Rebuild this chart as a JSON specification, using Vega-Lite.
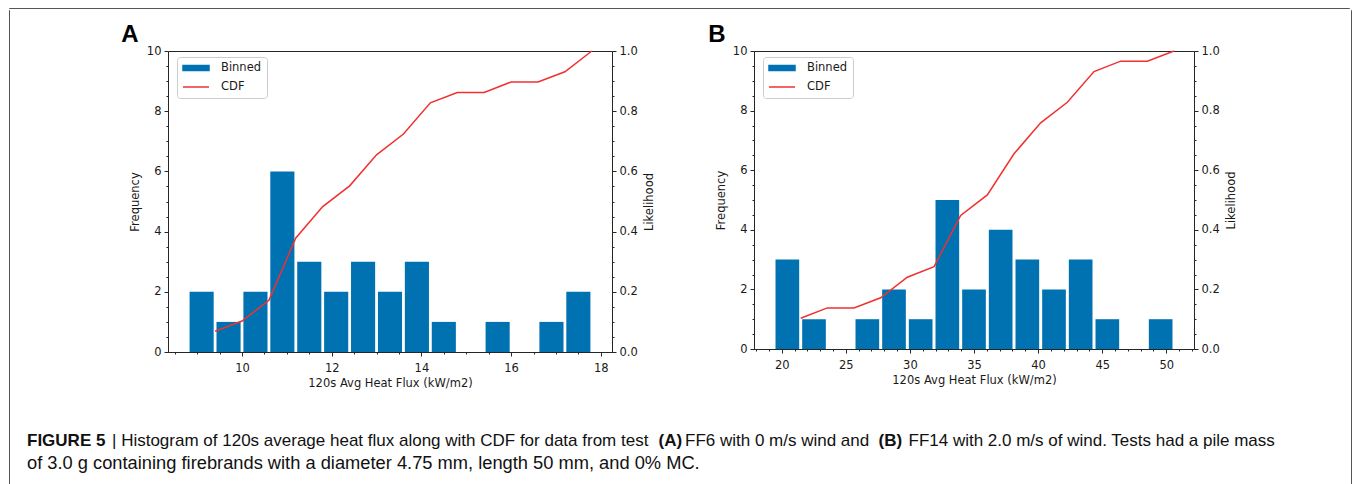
{
  "$schema": "https://vega.github.io/schema/vega-lite/v6.json",
  "background": "white",
  "padding": {"left": 8, "top": 7, "right": 0, "bottom": 0},
  "spacing": 0,
  "datasets": {
    "barsA": [
      {"lo": 8.8, "hi": 9.4, "n": 2},
      {"lo": 9.4, "hi": 10.0, "n": 1},
      {"lo": 10.0, "hi": 10.6, "n": 2},
      {"lo": 10.6, "hi": 11.2, "n": 6},
      {"lo": 11.2, "hi": 11.8, "n": 3},
      {"lo": 11.8, "hi": 12.4, "n": 2},
      {"lo": 12.4, "hi": 13.0, "n": 3},
      {"lo": 13.0, "hi": 13.6, "n": 2},
      {"lo": 13.6, "hi": 14.2, "n": 3},
      {"lo": 14.2, "hi": 14.8, "n": 1},
      {"lo": 15.4, "hi": 16.0, "n": 1},
      {"lo": 16.6, "hi": 17.2, "n": 1},
      {"lo": 17.2, "hi": 17.8, "n": 2}
    ],
    "cdfA": [
      {"x": 9.4, "p": 0.069},
      {"x": 10.0, "p": 0.103},
      {"x": 10.6, "p": 0.172},
      {"x": 11.2, "p": 0.379},
      {"x": 11.8, "p": 0.483},
      {"x": 12.4, "p": 0.552},
      {"x": 13.0, "p": 0.655},
      {"x": 13.6, "p": 0.724},
      {"x": 14.2, "p": 0.828},
      {"x": 14.8, "p": 0.862},
      {"x": 15.4, "p": 0.862},
      {"x": 16.0, "p": 0.897},
      {"x": 16.6, "p": 0.897},
      {"x": 17.2, "p": 0.931},
      {"x": 17.8, "p": 1.0}
    ],
    "barsB": [
      {"lo": 19.40, "hi": 21.48, "n": 3},
      {"lo": 21.48, "hi": 23.56, "n": 1},
      {"lo": 25.64, "hi": 27.72, "n": 1},
      {"lo": 27.72, "hi": 29.80, "n": 2},
      {"lo": 29.80, "hi": 31.88, "n": 1},
      {"lo": 31.88, "hi": 33.96, "n": 5},
      {"lo": 33.96, "hi": 36.04, "n": 2},
      {"lo": 36.04, "hi": 38.12, "n": 4},
      {"lo": 38.12, "hi": 40.20, "n": 3},
      {"lo": 40.20, "hi": 42.28, "n": 2},
      {"lo": 42.28, "hi": 44.36, "n": 3},
      {"lo": 44.36, "hi": 46.44, "n": 1},
      {"lo": 48.52, "hi": 50.60, "n": 1}
    ],
    "cdfB": [
      {"x": 21.48, "p": 0.103},
      {"x": 23.56, "p": 0.138},
      {"x": 25.64, "p": 0.138},
      {"x": 27.72, "p": 0.172},
      {"x": 29.80, "p": 0.241},
      {"x": 31.88, "p": 0.276},
      {"x": 33.96, "p": 0.448},
      {"x": 36.04, "p": 0.517},
      {"x": 38.12, "p": 0.655},
      {"x": 40.20, "p": 0.759},
      {"x": 42.28, "p": 0.828},
      {"x": 44.36, "p": 0.931},
      {"x": 46.44, "p": 0.966},
      {"x": 48.52, "p": 0.966},
      {"x": 50.60, "p": 1.0}
    ]
  },
  "vconcat": [
    {
      "width": 1340,
      "height": 0.01,
      "view": {"stroke": "#555555", "strokeWidth": 1, "fill": null},
      "data": {"values": []},
      "mark": {"type": "text", "opacity": 0},
      "encoding": {}
    },
    {
      "spacing": 16,
      "hconcat": [
        {
          "width": 0.01,
          "height": 480,
          "view": {"stroke": "#555555", "strokeWidth": 1, "fill": null},
          "data": {"values": []},
          "mark": {"type": "text", "opacity": 0},
          "encoding": {}
        },
        {
          "spacing": 11,
          "vconcat": [
            {
              "width": 1,
              "height": 0.01,
              "view": {"stroke": null},
              "data": {"values": []},
              "mark": {"type": "text", "opacity": 0},
              "encoding": {}
            },
            {
              "spacing": 51,
              "resolve": {"scale": {"color": "independent"}},
              "hconcat": [
                {
                  "width": 43,
                  "height": 1,
                  "view": {"stroke": null},
                  "data": {"values": []},
                  "mark": {"type": "text", "opacity": 0},
                  "encoding": {}
                },
                {
                  "width": 444,
                  "height": 301,
                  "title": {"text": "A", "anchor": "start", "frame": "bounds", "dx": -8, "offset": -21, "baseline": "alphabetic"},
                  "view": {"stroke": "#262626", "strokeWidth": 1},
                  "resolve": {"scale": {"x": "independent", "y": "independent"}, "axis": {"x": "independent", "y": "independent"}},
                  "layer": [
                    {
                      "data": {"name": "barsA"},
                      "mark": {"type": "bar", "xOffset": 1.4, "x2Offset": -1.4},
                      "encoding": {
                        "x": {"field": "lo", "type": "quantitative", "scale": {"domain": [8.35, 18.25], "nice": false, "zero": false},
                              "axis": {"orient": "bottom", "values": [10, 12, 14, 16, 18], "title": "120s Avg Heat Flux (kW/m2)", "labelPadding": 6, "domain": true, "domainColor": "#262626", "zindex": 1}},
                        "x2": {"field": "hi"},
                        "y": {"field": "n", "type": "quantitative", "scale": {"domain": [0, 10], "nice": false},
                              "axis": {"orient": "left", "values": [0, 2, 4, 6, 8, 10], "title": "Frequency", "titlePadding": 6}},
                        "y2": {"datum": 0},
                        "color": {"datum": "Binned", "scale": {"domain": ["Binned", "CDF"], "range": ["#0072b2", "#f03030"]},
                                  "legend": {"orient": "none", "legendX": 9, "legendY": 6,
                                             "encode": {"symbols": {"update": {
                                               "shape": {"signal": "datum.value === 'CDF' ? 'M-1,0H4.2' : 'M-1,-0.5H4.2V0.5H-1Z'"},
                                               "fill": {"signal": "datum.value === 'CDF' ? 'transparent' : '#0072b2'"},
                                               "stroke": {"signal": "datum.value === 'CDF' ? '#f03030' : 'transparent'"},
                                               "strokeWidth": {"value": 1.5},
                                               "size": {"value": 100},
                                               "opacity": {"value": 1}}}}}}
                      }
                    },
                    {
                      "data": {"name": "cdfA"},
                      "mark": {"type": "line", "strokeWidth": 1.5},
                      "encoding": {
                        "x": {"field": "x", "type": "quantitative", "scale": {"domain": [8.35, 18.25], "nice": false, "zero": false}, "axis": null},
                        "y": {"field": "p", "type": "quantitative", "scale": {"domain": [0, 1], "nice": false},
                              "axis": {"orient": "right", "values": [0, 0.2, 0.4, 0.6, 0.8, 1.0], "format": ".1f", "title": "Likelihood", "titleAngle": 270, "titleBaseline": "top", "titlePadding": 6}},
                        "color": {"datum": "CDF"}
                      }
                    },
                    {
                      "data": {"name": "barsA"},
                      "mark": {"type": "point", "opacity": 0},
                      "encoding": {
                        "x": {"field": "lo", "type": "quantitative", "scale": {"domain": [8.35, 18.25], "nice": false, "zero": false},
                              "axis": {"orient": "bottom", "values": [8.5, 9, 9.5, 10.5, 11, 11.5, 12.5, 13, 13.5, 14.5, 15, 15.5, 16.5, 17, 17.5], "labels": false, "title": null, "tickSize": 2}},
                        "y": {"field": "n", "type": "quantitative", "scale": {"domain": [0, 10], "nice": false},
                              "axis": {"orient": "left", "values": [0.5, 1, 1.5, 2.5, 3, 3.5, 4.5, 5, 5.5, 6.5, 7, 7.5, 8.5, 9, 9.5], "labels": false, "title": null, "tickSize": 2}}
                      }
                    },
                    {
                      "data": {"name": "cdfA"},
                      "mark": {"type": "point", "opacity": 0},
                      "encoding": {
                        "x": {"field": "x", "type": "quantitative", "scale": {"domain": [8.35, 18.25], "nice": false, "zero": false}, "axis": null},
                        "y": {"field": "p", "type": "quantitative", "scale": {"domain": [0, 1], "nice": false},
                              "axis": {"orient": "right", "values": [0.05, 0.1, 0.15, 0.25, 0.3, 0.35, 0.45, 0.5, 0.55, 0.65, 0.7, 0.75, 0.85, 0.9, 0.95], "labels": false, "title": null, "tickSize": 2}}
                      }
                    }
                  ]
                },
                {
                  "width": 440,
                  "height": 298,
                  "title": {"text": "B", "anchor": "start", "frame": "bounds", "dx": -7, "offset": -21, "baseline": "alphabetic"},
                  "view": {"stroke": "#262626", "strokeWidth": 1},
                  "resolve": {"scale": {"x": "independent", "y": "independent"}, "axis": {"x": "independent", "y": "independent"}},
                  "layer": [
                    {
                      "data": {"name": "barsB"},
                      "mark": {"type": "bar", "xOffset": 1.5, "x2Offset": -1.5},
                      "encoding": {
                        "x": {"field": "lo", "type": "quantitative", "scale": {"domain": [17.84, 52.16], "nice": false, "zero": false},
                              "axis": {"orient": "bottom", "values": [20, 25, 30, 35, 40, 45, 50], "title": "120s Avg Heat Flux (kW/m2)", "labelPadding": 6, "domain": true, "domainColor": "#262626", "zindex": 1}},
                        "x2": {"field": "hi"},
                        "y": {"field": "n", "type": "quantitative", "scale": {"domain": [0, 10], "nice": false},
                              "axis": {"orient": "left", "values": [0, 2, 4, 6, 8, 10], "title": "Frequency", "titlePadding": 6}},
                        "y2": {"datum": 0},
                        "color": {"datum": "Binned", "scale": {"domain": ["Binned", "CDF"], "range": ["#0072b2", "#f03030"]},
                                  "legend": {"orient": "none", "legendX": 9, "legendY": 6,
                                             "encode": {"symbols": {"update": {
                                               "shape": {"signal": "datum.value === 'CDF' ? 'M-1,0H4.2' : 'M-1,-0.5H4.2V0.5H-1Z'"},
                                               "fill": {"signal": "datum.value === 'CDF' ? 'transparent' : '#0072b2'"},
                                               "stroke": {"signal": "datum.value === 'CDF' ? '#f03030' : 'transparent'"},
                                               "strokeWidth": {"value": 1.5},
                                               "size": {"value": 100},
                                               "opacity": {"value": 1}}}}}}
                      }
                    },
                    {
                      "data": {"name": "cdfB"},
                      "mark": {"type": "line", "strokeWidth": 1.5},
                      "encoding": {
                        "x": {"field": "x", "type": "quantitative", "scale": {"domain": [17.84, 52.16], "nice": false, "zero": false}, "axis": null},
                        "y": {"field": "p", "type": "quantitative", "scale": {"domain": [0, 1], "nice": false},
                              "axis": {"orient": "right", "values": [0, 0.2, 0.4, 0.6, 0.8, 1.0], "format": ".1f", "title": "Likelihood", "titleAngle": 270, "titleBaseline": "top", "titlePadding": 6}},
                        "color": {"datum": "CDF"}
                      }
                    },
                    {
                      "data": {"name": "barsB"},
                      "mark": {"type": "point", "opacity": 0},
                      "encoding": {
                        "x": {"field": "lo", "type": "quantitative", "scale": {"domain": [17.84, 52.16], "nice": false, "zero": false},
                              "axis": {"orient": "bottom", "values": [18, 19, 21, 22, 23, 24, 26, 27, 28, 29, 31, 32, 33, 34, 36, 37, 38, 39, 41, 42, 43, 44, 46, 47, 48, 49, 51, 52], "labels": false, "title": null, "tickSize": 2}},
                        "y": {"field": "n", "type": "quantitative", "scale": {"domain": [0, 10], "nice": false},
                              "axis": {"orient": "left", "values": [0.5, 1, 1.5, 2.5, 3, 3.5, 4.5, 5, 5.5, 6.5, 7, 7.5, 8.5, 9, 9.5], "labels": false, "title": null, "tickSize": 2}}
                      }
                    },
                    {
                      "data": {"name": "cdfB"},
                      "mark": {"type": "point", "opacity": 0},
                      "encoding": {
                        "x": {"field": "x", "type": "quantitative", "scale": {"domain": [17.84, 52.16], "nice": false, "zero": false}, "axis": null},
                        "y": {"field": "p", "type": "quantitative", "scale": {"domain": [0, 1], "nice": false},
                              "axis": {"orient": "right", "values": [0.05, 0.1, 0.15, 0.25, 0.3, 0.35, 0.45, 0.5, 0.55, 0.65, 0.7, 0.75, 0.85, 0.9, 0.95], "labels": false, "title": null, "tickSize": 2}}
                      }
                    }
                  ]
                }
              ]
            },
            {
              "width": 1308,
              "height": 80,
              "view": {"stroke": null},
              "layer": [
                {
                  "data": {"values": [{"t": "FIGURE 5"}]},
                  "mark": {"type": "text", "font": "Liberation Sans", "fontSize": 17, "fontWeight": "bold", "align": "left", "baseline": "alphabetic", "color": "#111111"},
                  "encoding": {"text": {"field": "t"}, "x": {"value": 1}, "y": {"value": 45}}
                },
                {
                  "data": {"values": [{"t": "| Histogram of 120s average heat flux along with CDF for data from test"}]},
                  "mark": {"type": "text", "font": "Liberation Sans", "fontSize": 17, "align": "left", "baseline": "alphabetic", "color": "#111111"},
                  "encoding": {"text": {"field": "t"}, "x": {"value": 86}, "y": {"value": 45}}
                },
                {
                  "data": {"values": [{"t": "(A)"}]},
                  "mark": {"type": "text", "font": "Liberation Sans", "fontSize": 17, "fontWeight": "bold", "align": "left", "baseline": "alphabetic", "color": "#111111"},
                  "encoding": {"text": {"field": "t"}, "x": {"value": 632.5}, "y": {"value": 45}}
                },
                {
                  "data": {"values": [{"t": "FF6 with 0 m/s wind and"}]},
                  "mark": {"type": "text", "font": "Liberation Sans", "fontSize": 17, "align": "left", "baseline": "alphabetic", "color": "#111111"},
                  "encoding": {"text": {"field": "t"}, "x": {"value": 659}, "y": {"value": 45}}
                },
                {
                  "data": {"values": [{"t": "(B)"}]},
                  "mark": {"type": "text", "font": "Liberation Sans", "fontSize": 17, "fontWeight": "bold", "align": "left", "baseline": "alphabetic", "color": "#111111"},
                  "encoding": {"text": {"field": "t"}, "x": {"value": 852.5}, "y": {"value": 45}}
                },
                {
                  "data": {"values": [{"t": "FF14 with 2.0 m/s of wind. Tests had a pile mass"}]},
                  "mark": {"type": "text", "font": "Liberation Sans", "fontSize": 17, "align": "left", "baseline": "alphabetic", "color": "#111111"},
                  "encoding": {"text": {"field": "t"}, "x": {"value": 882.5}, "y": {"value": 45}}
                },
                {
                  "data": {"values": [{"t": "of 3.0 g containing firebrands with a diameter 4.75 mm, length 50 mm, and 0% MC."}]},
                  "mark": {"type": "text", "font": "Liberation Sans", "fontSize": 18.3, "align": "left", "baseline": "alphabetic", "color": "#111111"},
                  "encoding": {"text": {"field": "t"}, "x": {"value": 1}, "y": {"value": 68}}
                }
              ]
            }
          ]
        },
        {
          "width": 0.01,
          "height": 480,
          "view": {"stroke": "#555555", "strokeWidth": 1, "fill": null},
          "data": {"values": []},
          "mark": {"type": "text", "opacity": 0},
          "encoding": {}
        }
      ]
    }
  ],
  "config": {
    "font": "DejaVu Sans",
    "axis": {
      "labelFont": "DejaVu Sans",
      "labelFontSize": 11.5,
      "labelColor": "#1a1a1a",
      "titleFont": "DejaVu Sans",
      "titleFontSize": 11.5,
      "titleFontWeight": "normal",
      "titleColor": "#1a1a1a",
      "tickColor": "#262626",
      "tickSize": 4,
      "tickWidth": 1,
      "grid": false,
      "domain": false,
      "labelPadding": 3
    },
    "legend": {
      "title": null,
      "labelFont": "DejaVu Sans",
      "labelFontSize": 11.5,
      "labelColor": "#1a1a1a",
      "padding": 5,
      "rowPadding": 7,
      "labelOffset": 27,
      "symbolSize": 100,
      "strokeColor": "#cccccc",
      "fillColor": "white",
      "cornerRadius": 3
    },
    "title": {"font": "Liberation Sans", "fontSize": 24, "fontWeight": "bold", "color": "#000000"}
  }
}
